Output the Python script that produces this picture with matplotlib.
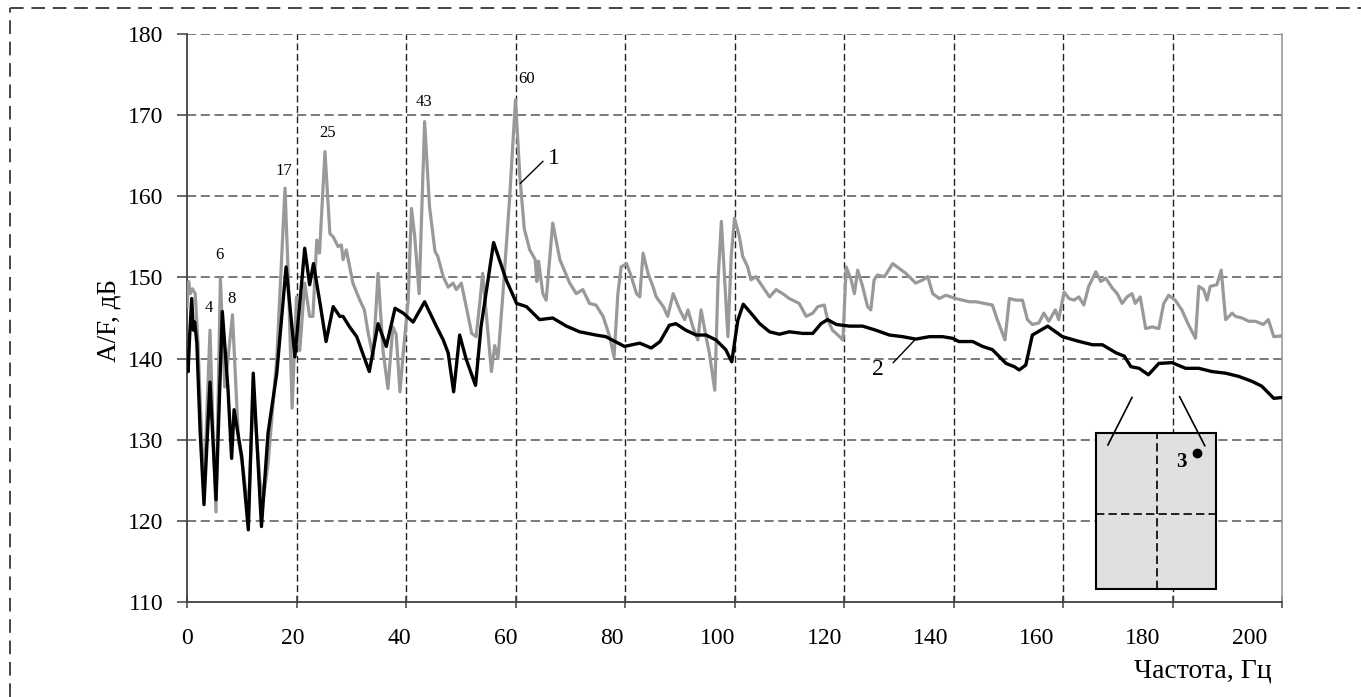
import numpy as np
import matplotlib
matplotlib.use('Agg')
import matplotlib.pyplot as plt
from matplotlib.patches import Rectangle
from matplotlib.lines import Line2D

plt.rcParams['font.family'] = ['Liberation Serif', 'DejaVu Serif']

# curve 1 (gray) - frequency, level
f1 = [0.0, 0.3, 0.6, 1.0, 1.5, 2.0, 2.9, 3.4, 4.2, 4.8, 5.3, 6.1, 6.9, 7.5, 8.3, 9.4,
      10.2, 11.2, 12.1, 13.3, 14.0, 14.8, 16.4, 17.9, 18.5, 19.2, 20.0, 20.6, 21.5, 22.4,
      23.0, 23.7, 24.2, 25.2, 26.1, 26.7, 27.6, 28.2, 28.5, 29.1, 30.3, 31.5, 32.4, 33.1,
      34.0, 34.9, 35.8, 36.7, 37.6, 38.2, 38.9, 39.5, 40.4, 41.0, 41.6, 42.4, 43.4, 44.3,
      45.3, 45.8, 46.8, 47.7, 48.6, 49.2, 50.1, 51.0, 52.0, 52.8, 53.5, 54.0, 55.6, 56.2,
      56.8, 57.7, 58.9, 60.0, 60.8, 61.6, 62.6, 63.6, 63.9, 64.2, 65.0, 65.6, 66.8, 68.1,
      69.9, 71.1, 72.3, 73.5, 74.7, 76.0, 77.2, 78.0, 78.7, 79.3, 80.3, 81.2, 82.1, 82.7,
      83.3, 84.2, 85.1, 85.7, 87.0, 87.8, 88.8, 90.0, 90.9, 91.5, 92.4, 93.3, 93.9, 94.8,
      95.4, 96.4, 97.0, 97.6, 98.2, 98.8, 99.4, 100.0, 100.9, 101.5, 102.4, 103.0, 103.9,
      105.1, 106.4, 107.6, 108.8, 110.0, 111.8, 113.1, 114.3, 115.2, 116.4, 117.0, 117.9,
      119.2, 119.8, 120.4, 121.3, 121.9, 122.5, 123.4, 124.3, 124.9, 125.5, 126.1, 127.4,
      128.9, 130.1, 131.3, 133.1, 134.4, 135.3, 136.2, 137.4, 138.6, 140.4, 142.9, 144.1,
      147.1, 148.0, 149.4, 150.2, 151.4, 152.6, 153.5, 154.4, 155.6, 156.5, 157.4, 158.6,
      159.2, 160.2, 161.1, 162.0, 162.9, 163.8, 164.7, 166.0, 166.9, 167.8, 169.0, 169.9,
      170.8, 171.7, 172.6, 173.2, 174.1, 175.1, 176.3, 177.5, 178.4, 179.3, 180.5, 181.7,
      182.9, 184.2, 184.8, 185.7, 186.3, 186.9, 188.1, 188.9, 189.7, 190.9, 191.5, 192.7,
      193.9, 195.1, 196.6, 197.5, 198.5, 200.0]
a1 = [146.4, 149.5, 148.0, 148.6, 148.0, 142.0, 126.3, 129.0, 143.5, 130.0, 121.1, 149.9,
      136.5, 140.0, 145.4, 130.0, 126.6, 121.0, 136.0, 125.0, 123.0, 127.0, 140.0, 161.0,
      150.0, 133.9, 147.6, 141.0, 149.3, 145.2, 145.2, 154.6, 153.0, 165.5, 155.4, 155.0,
      153.8, 154.0, 152.2, 153.4, 149.3, 147.3, 146.0, 143.1, 140.2, 150.5, 141.0, 136.3,
      143.9, 143.0, 135.9, 140.7, 147.2, 158.5, 155.0, 148.0, 169.2, 158.7, 153.2, 152.6,
      150.1, 148.8, 149.3, 148.5, 149.3, 146.4, 143.1, 142.7, 147.0, 150.5, 138.4, 141.6,
      140.0, 148.0, 159.5, 171.9, 162.4, 156.0, 153.4, 152.2, 149.5, 152.0, 148.0, 147.2,
      156.7, 152.2, 149.3, 148.0, 148.5, 146.8, 146.6, 145.2, 142.7, 140.2, 148.0, 151.3,
      151.7, 150.0, 148.0, 147.6, 153.0, 150.5, 148.9, 147.6, 146.4, 145.2, 148.0, 146.0,
      144.8, 146.0, 143.9, 142.3, 146.0, 142.7, 140.7, 136.1, 149.7, 156.9, 149.7, 142.7,
      152.6, 157.3, 155.0, 152.6, 151.3, 149.7, 150.1, 148.9, 147.6, 148.5, 148.0, 147.4,
      146.8, 145.2, 145.6, 146.4, 146.6, 144.8, 143.5, 142.7, 142.3, 151.3, 149.7, 148.0,
      150.9, 148.9, 146.4, 146.0, 149.7, 150.3, 150.1, 151.7, 151.1, 150.5, 149.3, 149.7,
      150.1, 148.0, 147.4, 147.8, 147.4, 147.0, 147.0, 146.6, 144.8, 142.3, 147.4, 147.2,
      147.2, 144.8, 144.2, 144.4, 145.6, 144.6, 146.0, 144.8, 148.2, 147.4, 147.2, 147.6,
      146.6, 148.9, 150.7, 149.5, 149.9, 148.7, 148.0, 146.8, 147.6, 148.0, 146.8, 147.6,
      143.7, 143.9, 143.7, 146.8, 147.8, 147.2, 146.0, 144.2, 142.5, 148.9, 148.5, 147.2,
      148.9, 149.1, 150.9, 144.8, 145.6, 145.2, 145.0, 144.6, 144.6, 144.2, 144.8, 142.7,
      142.8]

# curve 2 (black)
f2 = [0.0, 0.2, 0.5, 0.86, 1.15, 1.4, 1.8, 2.4, 3.1, 4.2, 5.3, 6.45, 7.5, 8.15, 8.6, 10.0,
      11.2, 12.1, 13.6, 14.8, 16.4, 18.1, 19.7, 20.5, 21.5, 22.4, 23.1, 24.3, 25.4, 26.7,
      27.9, 28.5, 29.7, 31.0, 31.9, 33.3, 34.9, 36.4, 38.0, 39.5, 41.3, 43.4, 45.6, 46.8,
      47.7, 48.7, 49.8, 51.0, 52.7, 53.7, 56.0, 58.3, 60.2, 62.0, 64.4, 66.8, 69.3, 71.7,
      74.7, 76.5, 79.9, 82.7, 84.8, 86.4, 88.1, 89.3, 91.1, 93.0, 94.8, 96.6, 98.4, 99.5,
      100.6, 101.6, 103.0, 104.6, 106.4, 108.2, 110.0, 112.5, 114.3, 115.8, 117.0, 118.6,
      121.0, 123.4, 125.8, 128.3, 130.7, 133.1, 135.6, 138.0, 139.8, 141.0, 143.5, 145.3,
      147.1, 149.6, 151.1, 152.0, 153.2, 154.4, 157.2, 159.9, 163.0, 165.4, 167.2, 169.7,
      171.2, 172.4, 173.9, 175.6, 177.5, 179.9, 182.4, 184.8, 187.2, 189.7, 192.1, 194.5,
      196.3, 198.5, 200.0]
a2 = [140.0, 138.4, 143.0, 147.4, 143.5, 144.5, 141.9, 131.0, 122.0, 137.1, 122.6, 145.8,
      136.1, 127.7, 133.7, 127.9, 118.9, 138.2, 119.3, 130.8, 138.2, 151.3, 140.2, 146.0,
      153.6, 149.1, 151.7, 146.8, 142.1, 146.4, 145.2, 145.2, 143.9, 142.7, 141.0, 138.4,
      144.3, 141.5, 146.2, 145.6, 144.5, 147.0, 143.9, 142.3, 140.7, 135.9, 142.9, 139.9,
      136.7, 143.9, 154.3, 149.7, 146.8, 146.4, 144.8, 145.0, 144.0, 143.3, 142.9, 142.7,
      141.5, 141.9, 141.3, 142.1, 144.1, 144.3, 143.5, 142.9, 142.9, 142.3, 141.1, 139.6,
      144.7, 146.7, 145.6, 144.3, 143.3, 143.0, 143.3, 143.1, 143.1, 144.3, 144.8, 144.2,
      144.0, 144.0, 143.5, 142.9, 142.7, 142.4, 142.7, 142.7, 142.5, 142.1, 142.1, 141.5,
      141.1, 139.4, 139.0, 138.6, 139.2, 142.9, 144.0, 142.7, 142.1, 141.7, 141.7, 140.7,
      140.3, 139.0, 138.8, 138.0, 139.4, 139.5, 138.8, 138.8, 138.4, 138.2, 137.8, 137.2,
      136.6, 135.1, 135.2]

xticks = list(range(0, 201, 20))
yticks = list(range(110, 181, 10))

# peak labels on curve 1: text, x, y
peak_labels = ['4', '6', '8', '17', '25', '43', '60']
peak_x = [4.0, 6.0, 8.2, 17.7, 25.7, 43.2, 62.0]
peak_y = [146.2, 152.8, 147.3, 163.1, 167.8, 171.6, 174.5]

fig = plt.figure(figsize=(13.61, 6.97), dpi=100)
ax = fig.add_axes([187/1361, 95/697, 1095/1361, 568/697])

ax.plot(f1, a1, color='#999999', lw=2.3, solid_joinstyle='round', zorder=3)
ax.plot(f2, a2, color='black', lw=2.4, solid_joinstyle='round', zorder=4)

ax.set_xlim(0, 200)
ax.set_ylim(110, 180)

# grid
for yv in yticks[1:]:
    ax.axhline(yv, color='#555555', lw=1.1, dashes=(6, 3), zorder=1)
for xv in xticks[1:-1]:
    ax.axvline(xv, color='#222222', lw=1.0, dashes=(5, 2.5), zorder=1)

ax.spines['top'].set_visible(False)
ax.spines['right'].set_color('#999999')
ax.spines['right'].set_linewidth(1.2)
ax.spines['left'].set_color('#404040')
ax.spines['bottom'].set_color('#404040')
ax.spines['left'].set_linewidth(1.3)
ax.spines['bottom'].set_linewidth(1.3)

# major ticks carry the marks, minor ticks carry the labels (shifted as in the original)
ax.xaxis.remove_overlapping_locs = False
ax.set_xticks(xticks)
ax.set_xticklabels([])
ax.set_xticks([v * 0.97 for v in xticks], minor=True)
ax.set_xticklabels([str(v) for v in xticks], minor=True)
ax.tick_params(axis='x', which='major', direction='inout', length=9, width=1.1, color='#404040')
ax.tick_params(axis='x', which='minor', length=0, pad=19, labelsize=17)

ax.set_yticks(yticks)
ax.set_yticklabels([str(v) for v in yticks])
ax.tick_params(axis='y', direction='out', length=7, width=1.1, color='#404040', pad=10, labelsize=17)

ax.set_ylabel('A/F, дБ', fontsize=19.5)
ax.yaxis.set_label_coords(-0.060, 0.496)
ax.set_xlabel('Частота, Гц', fontsize=20)
ax.xaxis.set_label_coords(0.928, -0.0986)

for t, x, y in zip(peak_labels, peak_x, peak_y):
    ax.text(x, y, t, fontsize=12, ha='center', va='center', zorder=6)

# curve labels with leader lines
ax.plot([60.9, 65.0], [161.6, 164.3], color='black', lw=1.0, zorder=6)
ax.text(67.0, 164.7, '1', fontsize=17, ha='center', va='center', zorder=6)
ax.plot([129.0, 132.8], [139.5, 142.2], color='black', lw=1.0, zorder=6)
ax.text(126.1, 138.6, '2', fontsize=17, ha='center', va='center', zorder=6)

# inset sketch with measurement point 3
ax.add_patch(Rectangle((166.0, 111.56), 22.0, 19.3, facecolor='#e0e0e0',
                       edgecolor='black', lw=1.5, zorder=7))
ax.plot([177.1, 177.1], [111.56, 130.86], color='black', lw=1.2, dashes=(5, 2.5), zorder=8)
ax.plot([166.0, 188.0], [120.8, 120.8], color='black', lw=1.2, dashes=(5, 2.5), zorder=8)
ax.plot([184.5], [128.4], 'o', color='black', ms=6, zorder=9)
ax.text(181.7, 127.3, '3', fontsize=15, fontweight='bold', ha='center', va='center', zorder=9)
ax.plot([172.6, 168.2], [135.2, 129.35], color='black', lw=1.2, zorder=9)
ax.plot([181.3, 185.9], [135.3, 129.26], color='black', lw=1.2, zorder=9)

# dashed outer frame (cropped at right and bottom)
fig.add_artist(Line2D([10/1361, 1.0], [1 - 8/697, 1 - 8/697], color='#444444',
                      lw=1.4, dashes=(7, 4)))
fig.add_artist(Line2D([10/1361, 10/1361], [0.0, 1 - 8/697], color='#444444',
                      lw=1.4, dashes=(7, 4)))

plt.savefig('out.png', dpi=100)
